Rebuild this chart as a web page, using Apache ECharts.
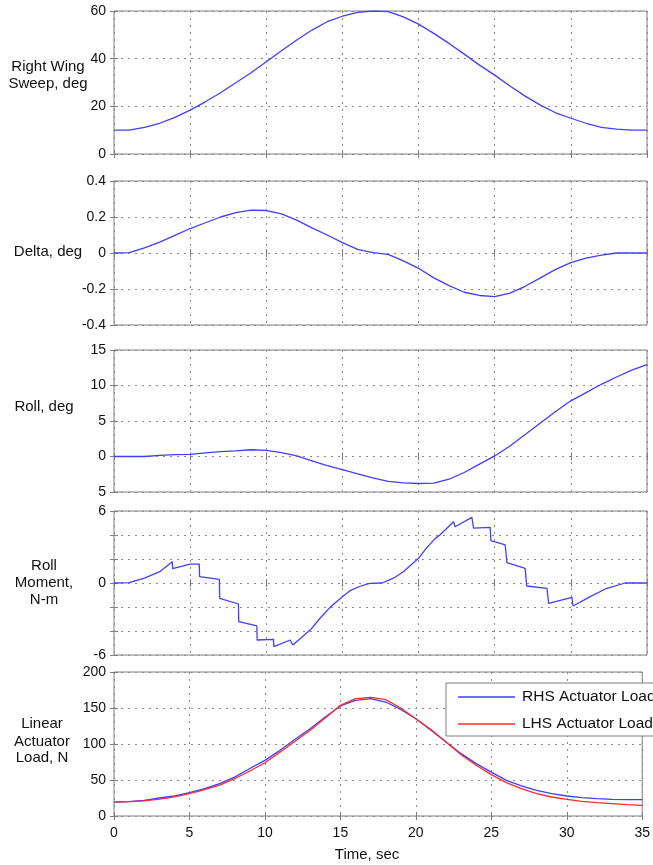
<!DOCTYPE html>
<html>
<head>
<meta charset="utf-8">
<script src="https://cdn.jsdelivr.net/npm/echarts@6/dist/echarts.min.js"></script>
<style>
html,body{margin:0;padding:0;background:#fff;}
#chart{width:653px;height:865px;}
</style>
</head>
<body>
<div id="chart"></div>
<script>
// ---------- data ----------
const time = [0,1,2,3,4,5,6,7,8,9,10,11,12,13,14,15,16,17,18,19,20,21,22,23,24,25,26,27,28,29,30,31,32,33,34,35];
const sweep = [10,10,11.2,12.9,15.4,18.4,21.9,25.7,29.9,34.1,38.7,43.3,47.8,52,55.5,57.8,59.4,60,59.7,57.5,54.5,50.6,46.4,41.9,37.3,33.1,28.5,24.3,20.5,17.3,15,12.9,11.2,10.4,10,10];
const delta = [0,0.002,0.028,0.06,0.098,0.136,0.168,0.2,0.224,0.238,0.236,0.217,0.183,0.14,0.1,0.058,0.02,0.002,-0.008,-0.044,-0.085,-0.138,-0.181,-0.218,-0.236,-0.242,-0.223,-0.185,-0.138,-0.091,-0.053,-0.028,-0.012,0,0,0];
const roll = [0,0,0,0.15,0.25,0.3,0.5,0.7,0.8,0.95,0.85,0.55,0.1,-0.6,-1.3,-1.86,-2.46,-3.0,-3.5,-3.72,-3.8,-3.75,-3.2,-2.25,-1.07,0.08,1.48,3.1,4.73,6.35,7.84,9.0,10.17,11.2,12.16,12.95];
const momentTime = [0,1,2,3,3.83,3.85,4.99,5.6,5.62,6.92,6.94,8.17,8.19,9.38,9.4,10.47,10.5,11.57,11.74,12.9,13.53,14.19,15,15.5,16.2,16.8,17.6,18.35,19,20,20.5,21.1,21.4,22.3,22.4,23.5,23.61,24.7,24.75,25.69,25.8,27.0,27.1,28.43,28.54,30.07,30.14,31.27,32.37,33.57,35];
const momentValue = [0,0.03,0.4,0.94,1.78,1.2,1.58,1.58,0.53,0.3,-1.28,-1.75,-3.22,-3.58,-4.75,-4.69,-5.3,-4.75,-5.17,-3.9,-2.94,-2.03,-1.14,-0.64,-0.25,-0.03,0,0.4,0.94,2.06,2.89,3.72,4.0,5.1,4.69,5.47,4.58,4.64,3.53,3.17,1.69,1.22,-0.25,-0.44,-1.69,-1.19,-1.92,-1.14,-0.44,0,0];
const rhsLoad = [19.4,20,21.8,25,27.8,32.4,38,45,54,66,77.3,91.2,106.5,121.3,137.5,152.8,160.6,163,158.3,148,135,119,102.8,86.6,72.7,61,49.5,41.7,35.6,31,27.8,25.5,24,23,22.7,22.7];
const lhsLoad = [19.4,20,21,23.5,26.5,31,36.5,43,51.8,62.5,74,88.5,103.7,119,136,153.7,163,164.8,161.6,150,135,120,102.8,85.2,70.4,57.4,46.3,38,31,26.4,23.1,20.4,18.5,17.1,15.7,14.8];
const yLabels = [
  ['Right Wing','Sweep, deg'],
  ['Delta, deg'],
  ['Roll, deg'],
  ['Roll','Moment,','N-m'],
  ['Linear','Actuator','Load, N']
];
const seriesNames = ['RHS Actuator Load','LHS Actuator Load'];
const xTitle = 'Time, sec';
// y-axis scales: min, max, interval
const yScales = [[0,60,20],[-0.4,0.4,0.2],[-5,15,5],[-6,6,2],[0,200,50]];
// tick-label overrides as printed in the figure
const rollTickText = {'-5':'5','0':'0','5':'5','10':'10','15':'15'};
const momentTickText = {'-6':'-6','0':'0','6':'6'};

// ---------- layout ----------
const FONT = 'Liberation Sans, Arial, sans-serif';
const layout = [
  {top:11, height:143, label:{x:48, ys:[67,84]}},
  {top:181, height:144, label:{x:48, ys:[252]}},
  {top:350, height:142, label:{x:44, ys:[407]}},
  {top:511, height:144, label:{x:44, ys:[566,583,600]}},
  {top:672, height:144, label:{x:42, ys:[724,742,758]}}
];
const BLUE = '#3f3fff', RED = '#ff2a2a', FRAME = '#7f7f7f';

const grids = [], xAxes = [], yAxes = [], series = [];
function pair(xs, ys){ return xs.map((x,i)=>[x, ys[i]]); }

layout.forEach((L, i) => {
  grids.push({left:114, right:6, top:L.top, height:L.height, show:true,
    borderColor:FRAME, borderWidth:1, backgroundColor:'#fff'});
  const last = i === layout.length-1;
  const [ymin,ymax,yint] = yScales[i];
  xAxes.push({type:'value', gridIndex:i, min:0, max:35, interval:5, position:'bottom',
    axisLine:{show:false}, axisTick:{inside:true, length:4, lineStyle:{color:FRAME}},
    axisLabel:{show:last, margin:10, fontSize:14, fontFamily:FONT, color:'#111'},
    splitLine:{show:true, lineStyle:{color:'#8a8a8a', type:[2,5], width:1}}});
  xAxes.push({type:'value', gridIndex:i, min:0, max:35, interval:5, position:'top',
    axisLine:{show:false}, axisTick:{inside:true, length:4, lineStyle:{color:FRAME}},
    axisLabel:{show:false}, splitLine:{show:false}});
  let fmt = v => String(v);
  if (i === 2) fmt = v => rollTickText[String(v)] || '';
  if (i === 3) fmt = v => momentTickText[String(v)] || '';
  if (i === 1) fmt = v => (Math.abs(v) < 1e-9 ? '0' : String(Math.round(v*10)/10));
  yAxes.push({type:'value', gridIndex:i, min:ymin, max:ymax, interval:yint, position:'left',
    axisLine:{show:false}, axisTick:{inside:true, length:4, lineStyle:{color:FRAME}},
    axisLabel:{margin:8, fontSize:14, fontFamily:FONT, color:'#111', formatter:fmt},
    splitLine:{show:true, lineStyle:{color:'#8a8a8a', type:[2,5], width:1}}});
  yAxes.push({type:'value', gridIndex:i, min:ymin, max:ymax, interval:yint, position:'right',
    axisLine:{show:false}, axisTick:{inside:true, length:4, lineStyle:{color:FRAME}},
    axisLabel:{show:false}, splitLine:{show:false}});
});
const gfx = [];
layout.forEach((L, i) => {
  yLabels[i].forEach((t, k) => {
    gfx.push({type:'text', x:L.label.x, y:L.label.ys[k], z:10,
      style:{text:t, font:'15px ' + FONT, fill:'#111', align:'center', verticalAlign:'middle'}});
  });
});
gfx.push({type:'text', x:367, y:855, z:10,
  style:{text:xTitle, font:'15px ' + FONT, fill:'#111', align:'center', verticalAlign:'middle'}});

const lineBase = {type:'line', showSymbol:false, symbol:'none', smooth:false, animation:false};
series.push(Object.assign({}, lineBase, {xAxisIndex:0, yAxisIndex:0, data:pair(time, sweep), lineStyle:{color:BLUE, width:1.3}, itemStyle:{color:BLUE}}));
series.push(Object.assign({}, lineBase, {xAxisIndex:2, yAxisIndex:2, data:pair(time, delta), lineStyle:{color:BLUE, width:1.3}, itemStyle:{color:BLUE}}));
series.push(Object.assign({}, lineBase, {xAxisIndex:4, yAxisIndex:4, data:pair(time, roll), lineStyle:{color:BLUE, width:1.3}, itemStyle:{color:BLUE}}));
series.push(Object.assign({}, lineBase, {xAxisIndex:6, yAxisIndex:6, data:pair(momentTime, momentValue), lineStyle:{color:BLUE, width:1.3}, itemStyle:{color:BLUE}}));
series.push(Object.assign({}, lineBase, {name:seriesNames[0], xAxisIndex:8, yAxisIndex:8, data:pair(time, rhsLoad), lineStyle:{color:BLUE, width:1.3}, itemStyle:{color:BLUE}}));
series.push(Object.assign({}, lineBase, {name:seriesNames[1], xAxisIndex:8, yAxisIndex:8, data:pair(time, lhsLoad), lineStyle:{color:RED, width:1.3}, itemStyle:{color:RED}}));

const chart = echarts.init(document.getElementById('chart'), null, {renderer:'canvas'});
chart.setOption({
  animation:false,
  backgroundColor:'#fff',
  grid:grids, xAxis:xAxes, yAxis:yAxes, series:series,
  legend:{data:seriesNames, orient:'vertical', left:446, top:683,
    padding:[6,12,4,12], itemGap:11, itemWidth:57, itemHeight:1.5, icon:'rect',
    backgroundColor:'#fff', borderColor:FRAME, borderWidth:1,
    textStyle:{fontSize:15.5, fontFamily:FONT, color:'#111', padding:[0,0,0,2]}},
  graphic:gfx
});
</script>
</body>
</html>
